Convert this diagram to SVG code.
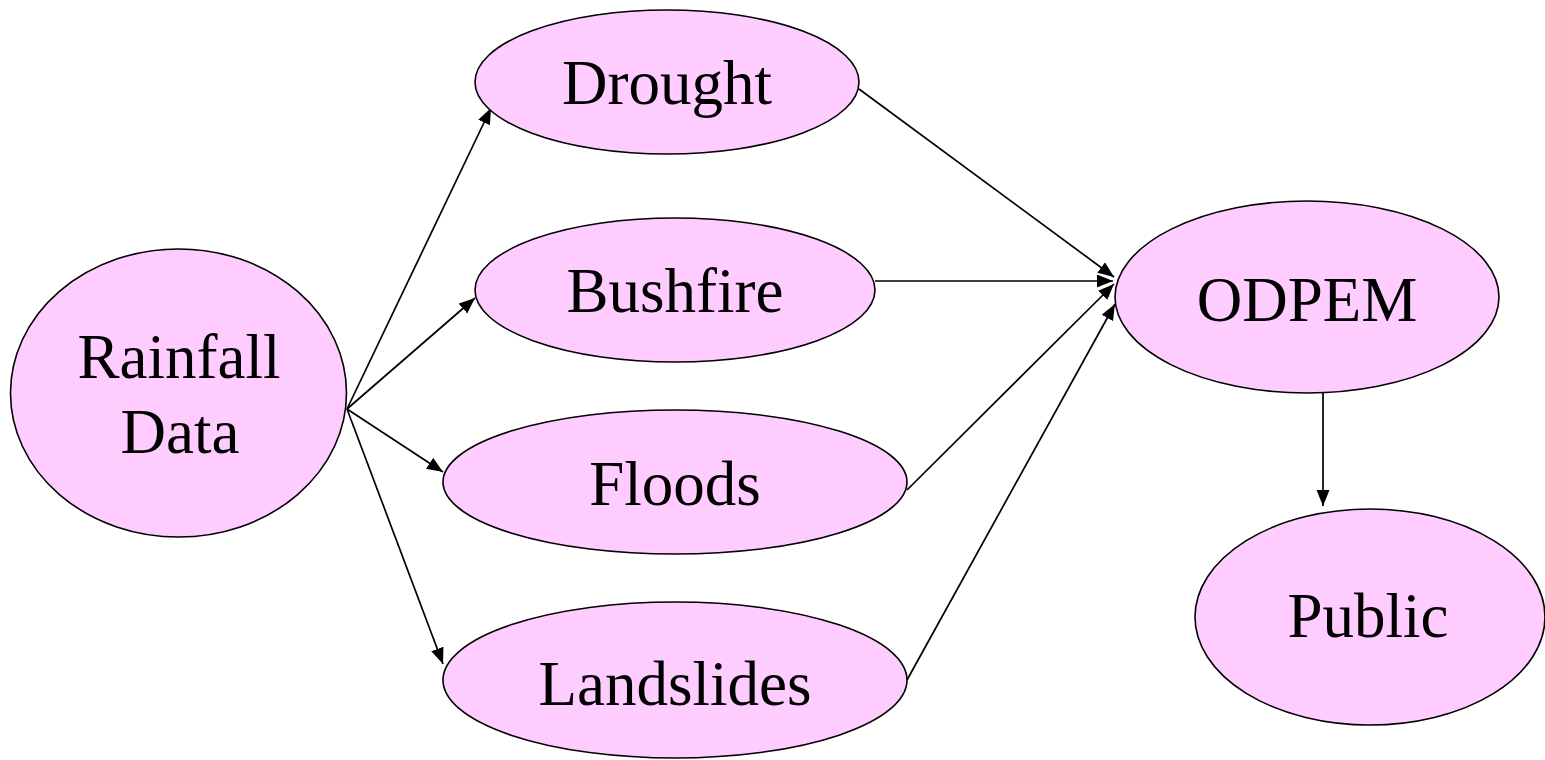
<svg xmlns="http://www.w3.org/2000/svg" width="1545" height="760" viewBox="0 0 1545 760">
<style>
.node ellipse{fill:#FFCCFF;stroke:#000;stroke-width:1.6}
.node text{font-family:"Liberation Serif","Times New Roman",serif;font-size:63px;fill:#000;text-anchor:middle}
.edges line{stroke:#000;stroke-width:1.7;fill:none;marker-end:url(#arrow)}
</style>
<defs>
<marker id="arrow" markerUnits="userSpaceOnUse" markerWidth="18" markerHeight="14" refX="16" refY="6.5" orient="auto">
<path d="M0,0 L16,6.5 L0,13 z" fill="#000"/>
</marker>
</defs>
<rect width="1545" height="760" fill="#fff"/>
<g class="edges" id="connectors">
<line x1="347" y1="409" x2="491" y2="108"/>
<line x1="347" y1="409" x2="475" y2="298"/>
<line x1="347" y1="409" x2="443" y2="472"/>
<line x1="347" y1="409" x2="443" y2="664"/>
<line x1="859" y1="89" x2="1114" y2="277"/>
<line x1="875" y1="281" x2="1113" y2="281"/>
<line x1="907" y1="490" x2="1114" y2="284"/>
<line x1="907" y1="680" x2="1115" y2="304"/>
<line x1="1323" y1="393" x2="1323" y2="506"/>
</g>
<g class="node" id="rainfall">
<ellipse cx="178.5" cy="393" rx="168" ry="144"/>
<text x="179" y="378">Rainfall</text>
<text x="180" y="453">Data</text>
</g>
<g class="node" id="drought">
<ellipse cx="667" cy="82" rx="192" ry="72"/>
<text x="667" y="104">Drought</text>
</g>
<g class="node" id="bushfire">
<ellipse cx="675" cy="290" rx="200" ry="72"/>
<text x="675" y="312">Bushfire</text>
</g>
<g class="node" id="floods">
<ellipse cx="675" cy="482" rx="232" ry="72"/>
<text x="675" y="505">Floods</text>
</g>
<g class="node" id="landslides">
<ellipse cx="675" cy="680" rx="232" ry="78"/>
<text x="675" y="705">Landslides</text>
</g>
<g class="node" id="odpem">
<ellipse cx="1307" cy="297" rx="192" ry="96"/>
<text x="1307" y="321">ODPEM</text>
</g>
<g class="node" id="public">
<ellipse cx="1370" cy="617" rx="175" ry="108"/>
<text x="1368" y="637">Public</text>
</g>
</svg>
